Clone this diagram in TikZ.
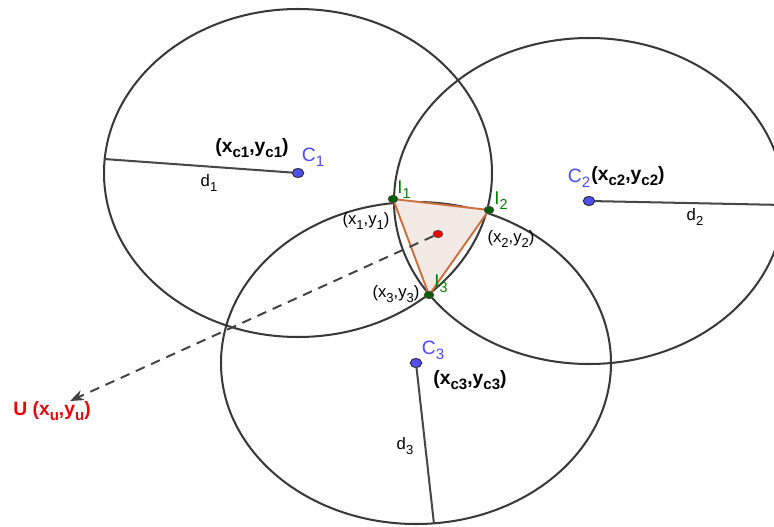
\documentclass[tikz,border=0pt]{standalone}
\usepackage{fontspec}
\setmainfont{Liberation Sans}
\usetikzlibrary{arrows.meta, shapes.geometric}

\definecolor{cblue}{RGB}{75,75,250}
\definecolor{dotblue}{RGB}{80,80,240}
\definecolor{igreen}{RGB}{0,125,0}
\definecolor{dotgreen}{RGB}{0,95,0}
\definecolor{triedge}{RGB}{205,112,62}
\definecolor{trifill}{RGB}{243,234,229}
\definecolor{ured}{RGB}{225,10,10}

% subscript that scales with the label font
\newcommand{\sbs}[1]{\raisebox{-0.5ex}{\scalebox{0.78}{#1}}}

\begin{document}
\begin{tikzpicture}[
    x=0.02cm, y=-0.02cm, >=Stealth,
    circ/.style={draw=black!78, line width=1.15pt},
    rad/.style={draw=black!72, line width=1.15pt},
    cdot/.style={ellipse, draw=black!85, fill=dotblue, line width=0.5pt,
                 minimum width=6.6pt, minimum height=5pt, inner sep=0pt},
    idot/.style={ellipse, draw=black!70, fill=dotgreen, line width=0.4pt,
                 minimum width=5.6pt, minimum height=4.2pt, inner sep=0pt},
    clabel/.style={text=cblue, font=\fontsize{11}{13}\selectfont, inner sep=0pt},
    ilabel/.style={text=igreen, font=\fontsize{10.5}{12}\selectfont, inner sep=0pt},
    coord/.style={font=\fontsize{11}{13}\selectfont\bfseries, inner sep=0pt},
    ptlabel/.style={font=\fontsize{9.5}{11}\selectfont, inner sep=0pt},
    dlabel/.style={font=\fontsize{9.5}{11}\selectfont, inner sep=0pt}
  ]
  \useasboundingbox (0,0) rectangle (774,527);
  \clip (0,0) rectangle (774,527);

  % centres and the ends of the radii
  \coordinate (e1) at (104,159);
  \coordinate (e2) at (784,205);
  \coordinate (e3) at (434,524);
  \coordinate (p1) at (393,199);
  \coordinate (p2) at (489,210);
  \coordinate (p3) at (429,295);
  \coordinate (utip) at (70,401);

  \node[cdot] (c1) at (298,173) {};
  \node[cdot] (c2) at (589,201) {};
  \node[cdot] (c3) at (416,363) {};

  % the three circles
  \draw[circ] (c1.center) ellipse [x radius=194, y radius=164];
  \draw[circ] (c2.center) ellipse [x radius=195, y radius=163];
  \draw[circ] (c3.center) ellipse [x radius=195, y radius=161];

  \draw[rad] (c1) -- (e1);
  \draw[rad] (c2) -- (e2);
  \draw[rad] (c3) -- (e3);

  % triangle of intersection points
  \draw[triedge, fill=trifill, line width=1.1pt, line join=round]
    (p1) -- (p2) -- (p3) -- cycle;

  \node[idot] (i1) at (p1) {};
  \node[idot] (i2) at (p2) {};
  \node[idot] (i3) at (p3) {};
  \node[ellipse, draw=black!70, fill=red, line width=0.4pt,
        minimum width=5.6pt, minimum height=4.2pt, inner sep=0pt] (r) at (438,234) {};

  \draw[->, draw=black!75, line width=1.1pt, dash pattern=on 5.5pt off 4pt] (r) -- (utip);

  % labels
  \node[clabel] (lc1) at (313,157) {C\sbs{1}};
  \node[clabel] (lc2) at (579,178) {C\sbs{2}};
  \node[clabel] (lc3) at (433,350) {C\sbs{3}};
  \node[coord] (xc1) at (252,148) {(x\sbs{c1},y\sbs{c1})};
  \node[coord] (xc2) at (628,176) {(x\sbs{c2},y\sbs{c2})};
  \node[coord] (xc3) at (470,380) {(x\sbs{c3},y\sbs{c3})};
  \node[dlabel] (d1) at (209,183) {d\sbs{1}};
  \node[dlabel] (d2) at (695,217) {d\sbs{2}};
  \node[dlabel] (d3) at (405,446) {d\sbs{3}};
  \node[ilabel] (li1) at (404,190) {I\sbs{1}};
  \node[ilabel] (li2) at (501,201) {I\sbs{2}};
  \node[ilabel] (li3) at (441,284) {I\sbs{3}};
  \node[ptlabel] (x1) at (366,221) {(x\sbs{1},y\sbs{1})};
  \node[ptlabel] (x2) at (511,239) {(x\sbs{2},y\sbs{2})};
  \node[ptlabel] (x3) at (396,294) {(x\sbs{3},y\sbs{3})};
  \node[text=ured, font=\fontsize{11}{13}\selectfont\bfseries, inner sep=0pt] (u)
    at (52,411) {U (x\sbs{u},y\sbs{u})};
\end{tikzpicture}
\end{document}
